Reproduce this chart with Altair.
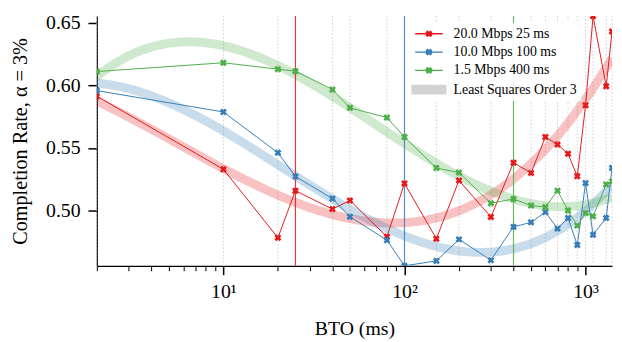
import math
import altair as alt
import pandas as pd

FONT = "Liberation Serif"

bto = [2, 10, 20, 25, 40, 50, 80, 100, 150, 200, 300, 400, 500, 600, 700, 800, 900, 1000, 1100, 1300, 1400]
rate_20mbps = [0.5913, 0.5329, 0.4782, 0.5158, 0.5011, 0.5080, 0.4790, 0.5216, 0.4774, 0.5240, 0.4948,
               0.5382, 0.5300, 0.5587, 0.5527, 0.5453, 0.5274, 0.5840, 0.6553, 0.5992, 0.6430]
rate_10mbps = [0.5958, 0.5787, 0.5461, 0.5272, 0.5095, 0.4950, 0.4763, 0.4558, 0.4597, 0.4769, 0.4603,
               0.4869, 0.4905, 0.4987, 0.4855, 0.4940, 0.4724, 0.5219, 0.4806, 0.4940, 0.5340]
rate_1_5mbps = [0.6110, 0.6180, 0.6129, 0.6113, 0.5966, 0.5820, 0.5742, 0.5587, 0.5339, 0.5303, 0.5058,
                0.5092, 0.5039, 0.5027, 0.5158, 0.5000, 0.4879, 0.4979, 0.4953, 0.5208, 0.5232]

series_names = ["20.0 Mbps 25 ms", "10.0 Mbps 100 ms", "1.5 Mbps 400 ms"]
fit_label = "Least Squares Order 3"
palette = ["#e41a1c", "#377eb8", "#4daf4a", "#d3d3d3"]
rule_bto = [25, 100, 400]

x_ticks = [2, 3, 4, 5, 6, 7, 8, 9, 10, 20, 30, 40, 50, 60, 70, 80, 90,
           100, 200, 300, 400, 500, 600, 700, 800, 900, 1000]
major_ticks = [10, 100, 1000]
y_ticks = [0.50, 0.55, 0.60, 0.65]

rows = []
for name, vals in zip(series_names, [rate_20mbps, rate_10mbps, rate_1_5mbps]):
    for b, v in zip(bto, vals):
        rows.append({"bto": b, "rate": v, "series": name})
df = pd.DataFrame(rows)

all_vals = rate_20mbps + rate_10mbps + rate_1_5mbps
x_scale = alt.Scale(type="log", domain=[min(bto), max(bto)], nice=False)
y_scale = alt.Scale(domain=[min(all_vals), max(all_vals)], nice=False, zero=False)
color_scale = alt.Scale(domain=series_names + [fit_label], range=palette)


def x_path(h, w):
    pts = [(-h, -h + w), (-h + w, -h), (0, -w), (h - w, -h), (h, -h + w), (w, 0),
           (h, h - w), (h - w, h), (0, w), (-h + w, h), (-h, h - w), (-w, 0)]
    return "M" + "L".join(f"{px:.3f},{py:.3f}" for px, py in pts) + "Z"


marker_shape = x_path(1, 0.55)
legend_line = "M-2.8,0H2.8" + x_path(0.5, 0.2)
legend_band = "".join(f"M-3.55,{yy:.2f}H3.55" for yy in [-0.85, -0.57, -0.28, 0, 0.28, 0.57, 0.85])
symbol_expr = f"datum.value === '{fit_label}' ? '{legend_band}' : '{legend_line}'"

major_test = " || ".join(f"datum.value == {m}" for m in major_ticks)

legend = alt.Legend(
    title=None, orient="none", legendX=325.5, legendY=7,
    labelFont=FONT, labelFontSize=14, labelColor="black", labelOffset=18,
    symbolSize=100, symbolStrokeWidth=1.5, symbolOpacity=1,
    symbolType={"expr": symbol_expr},
    rowPadding=4.5, padding=4, fillColor="rgba(255,255,255,0.9)",
)

x_axis = alt.Axis(
    values=x_ticks,
    labelExpr="datum.value == 10 ? '10¹' : datum.value == 100 ? '10²' : datum.value == 1000 ? '10³' : ''",
    tickSize={"condition": {"test": major_test, "value": 9}, "value": 5},
    tickWidth={"condition": {"test": major_test, "value": 1.5}, "value": 1},
    tickColor="black", domainColor="black", domainWidth=1.2, grid=False,
    labelFont=FONT, labelFontSize=20, labelColor="black", labelPadding=7,
    labelOverlap=False, labelFlush=False,
    title="BTO (ms)", titleFont=FONT, titleFontSize=20, titleFontWeight="normal",
    titleColor="black", titlePadding=18,
)

y_axis = alt.Axis(
    values=y_ticks, format=".2f", tickSize=9, tickWidth=1.5, tickColor="black",
    domainColor="black", domainWidth=1.2, grid=False,
    labelFont=FONT, labelFontSize=20, labelColor="black", labelPadding=8,
    title="Completion Rate, α = 3%", titleFont=FONT, titleFontSize=20.5,
    titleFontWeight="normal", titleColor="black", titlePadding=15,
)

grid = alt.Chart(pd.DataFrame({"bto": bto})).mark_rule(
    color="#c4c4c4", strokeWidth=0.8, strokeDash=[1.5, 2]
).encode(x=alt.X("bto:Q", scale=x_scale))

fit = alt.Chart(df).transform_calculate(
    lx="log(datum.bto) / LN10"
).transform_regression(
    "lx", "rate", groupby=["series"], method="poly", order=3,
    extent=[math.log10(min(bto)), math.log10(max(bto))]
).transform_calculate(
    bto="pow(10, datum.lx)"
).mark_line(strokeWidth=9, opacity=0.27, clip=True, strokeCap="butt").encode(
    x=alt.X("bto:Q", scale=x_scale),
    y=alt.Y("rate:Q", scale=y_scale),
    color=alt.Color("series:N", scale=color_scale, legend=legend),
)

rule_df = pd.DataFrame({"bto": rule_bto, "series": series_names})
rule_layers = []
for name, col in zip(series_names, palette):
    rule_layers.append(
        alt.Chart(rule_df).transform_filter(alt.datum.series == name).mark_rule(
            strokeWidth=1.2, stroke=col, color=col, strokeOpacity=0.85
        ).encode(x=alt.X("bto:Q", scale=x_scale))
    )

lines = alt.Chart(df).mark_line(
    strokeWidth=1, clip=True,
    point=alt.OverlayMarkDef(shape=marker_shape, filled=True, size=50, opacity=1, clip=True),
).encode(
    x=alt.X("bto:Q", scale=x_scale, axis=x_axis),
    y=alt.Y("rate:Q", scale=y_scale, axis=y_axis),
    color=alt.Color("series:N", scale=color_scale, legend=legend),
)

chart = alt.layer(grid, fit, *rule_layers, lines).properties(
    width=522, height=253,
    autosize=alt.AutoSizeParams(type="none"),
    padding={"left": 90, "top": 6, "right": 2, "bottom": 74},
).configure_view(stroke=None)

chart.save("out.html", embed_options={"renderer": "svg", "actions": False})
